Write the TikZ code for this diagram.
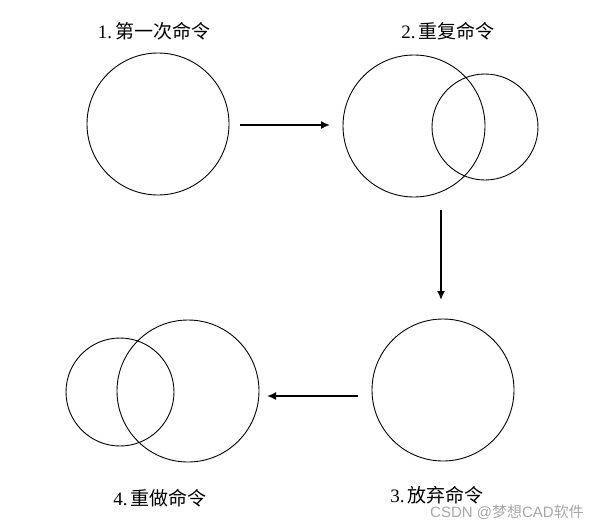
\documentclass[tikz,border=0pt]{standalone}
\usepackage{fontspec}
\setmainfont{Liberation Serif}
\newfontfamily\cjk{Noto Sans CJK SC}
\newfontfamily\wmfont{Liberation Sans}
\usetikzlibrary{arrows.meta}
\begin{document}
\begin{tikzpicture}[x=1pt,y=-1pt,
  circ/.style={draw=black,line width=0.9pt,circle,minimum size=#1,inner sep=0pt},
  arr/.style={draw=black,line width=1.6pt,-{Latex[length=9pt,width=8pt]}},
  lbl/.style={font=\fontsize{19}{22}\selectfont,inner sep=0pt},
  wm/.style={font=\wmfont\fontsize{15}{17}\selectfont,text=black!35,inner sep=0pt}]
\useasboundingbox (0,0) rectangle (607,525);
\node[circ=142pt] (c1) at (158,124) {};
\node[circ=142pt] (c2a) at (414,126) {};
\node[circ=106pt] (c2b) at (485,127) {};
\node[circ=142pt] (c3) at (443,390) {};
\node[circ=142pt] (c4a) at (188,391) {};
\node[circ=108pt] (c4b) at (120,392) {};
\coordinate (a1s) at (240,125); \coordinate (a1e) at (330,125);
\coordinate (a2s) at (441,210); \coordinate (a2e) at (441,300);
\coordinate (a3s) at (358,396); \coordinate (a3e) at (267,396);
\draw[arr] (a1s) -- (a1e);
\draw[arr] (a2s) -- (a2e);
\draw[arr] (a3s) -- (a3e);
\node[lbl] (t1) at (154,31) {1.\,{\cjk 第一次命令}};
\node[lbl] (t2) at (448,31) {2.\,{\cjk 重复命令}};
\node[lbl] (t3) at (437,495) {3.\,{\cjk 放弃命令}};
\node[lbl] (t4) at (160,498) {4.\,{\cjk 重做命令}};
\node[wm,anchor=west] (wm) at (430,512) {CSDN @{\cjk 梦想}CAD{\cjk 软件}};
\end{tikzpicture}
\end{document}
